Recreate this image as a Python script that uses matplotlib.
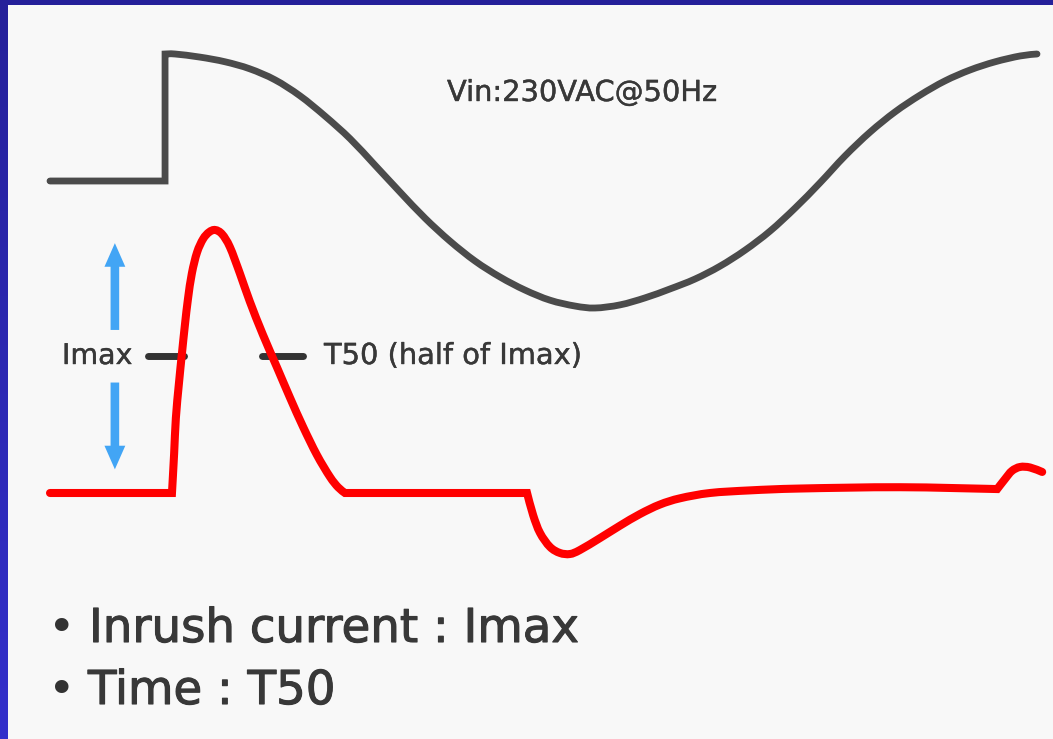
import numpy as np
import matplotlib
matplotlib.use("Agg")
import matplotlib.pyplot as plt
from matplotlib.patches import Rectangle, PathPatch
from matplotlib.path import Path
from matplotlib.colors import LinearSegmentedColormap
import matplotlib.patheffects as pe

# ---------------- data ----------------
# Input voltage: time in ms, voltage in V (230 VAC -> 325 V peak)
vin_t = [0.0, 2.66, 2.66, 2.89, 3.47, 4.05, 4.62, 5.20, 5.78, 6.36, 6.94, 7.51,
         8.09, 8.67, 9.25, 9.83, 10.41, 10.98, 11.56, 12.14, 12.60,
         13.18, 13.76, 14.34, 14.91, 15.49, 16.07, 16.65, 17.23, 17.80, 18.38,
         18.96, 19.54, 20.12, 20.69, 21.27, 21.85, 22.43, 22.82]
vin_v = [0, 0, 325, 325, 317, 305, 287, 259, 218, 166, 108, 41,
         -28, -95, -154, -205, -246, -279, -305, -320, -325,
         -317, -299, -276, -251, -218, -177, -128, -69, -5, 64,
         125, 177, 220, 256, 284, 305, 320, 325]
vin_corners = [1, 2]

# Inrush current: time in ms, current normalised to Imax
cur_t = [0.0, 2.82, 2.87, 2.91, 2.98, 3.05, 3.12, 3.19, 3.28, 3.40, 3.54, 3.68,
         3.82, 3.98, 4.16, 4.39, 4.62, 4.92, 5.25, 5.55, 5.85, 6.17, 6.47, 6.66,
         6.82, 11.03, 11.17, 11.33, 11.56, 11.79, 12.02, 12.25, 12.72, 13.18,
         13.64, 14.10, 14.57, 15.26, 16.19, 17.34, 19.65, 21.90, 22.08, 22.24,
         22.43, 22.66, 22.94]
cur_i = [0.0, 0.0, 0.150, 0.285, 0.415, 0.530, 0.640, 0.738, 0.835, 0.915, 0.966, 0.992,
         1.0, 0.984, 0.935, 0.835, 0.728, 0.603, 0.477, 0.362, 0.252, 0.145, 0.062, 0.022,
         0.0, 0.0, -0.084, -0.152, -0.205, -0.228, -0.232, -0.217, -0.171, -0.124,
         -0.080, -0.044, -0.020, 0.000, 0.010, 0.017, 0.022, 0.015, 0.053, 0.084,
         0.099, 0.097, 0.080]
cur_corners = [1, 24, 25, 41]

t50_level = 0.52
vin_label = "Vin:230VAC@50Hz"
imax_label = "Imax"
t50_label = "T50 (half of Imax)"
bullets = ["Inrush current : Imax", "Time : T50"]


def smooth_path(xs, ys, corners):
    """Catmull-Rom curve through the given points, with sharp corners at
    the listed indices (straight lines where a piece has two points)."""
    p = np.column_stack([xs, ys]).astype(float)
    breaks = sorted(set([0] + list(corners) + [len(p) - 1]))
    verts = [p[0]]
    codes = [Path.MOVETO]
    for a, b in zip(breaks[:-1], breaks[1:]):
        seg = p[a:b + 1]
        if len(seg) == 2:
            verts.append(seg[1])
            codes.append(Path.LINETO)
            continue
        n = len(seg)
        for k in range(n - 1):
            p0 = seg[k - 1] if k > 0 else seg[k]
            p1, p2 = seg[k], seg[k + 1]
            p3 = seg[k + 2] if k + 2 < n else seg[k + 1]
            c1 = p1 + (p2 - p0) / 6.0
            c2 = p2 - (p3 - p1) / 6.0
            verts += [c1, c2, p2]
            codes += [Path.CURVE4] * 3
    return Path(np.array(verts), codes)


# ---------------- figure ----------------
W, H = 1053, 739
fig = plt.figure(figsize=(W / 100, H / 100), dpi=100)

bg = fig.add_axes([0, 0, 1, 1])
bg.axis("off")
grad = np.linspace(0, 1, 256)[:, None]
cmap = LinearSegmentedColormap.from_list("frame", ["#25209a", "#332fcb"])
bg.imshow(grad, aspect="auto", cmap=cmap, extent=[0, 1, 0, 1], origin="upper")
bg.add_patch(Rectangle((8 / W, 0), 1 - 8 / W, 1 - 5 / H, transform=bg.transAxes,
                       facecolor="#f8f8f8", edgecolor="none", zorder=2))
bg.set_xlim(0, 1)
bg.set_ylim(0, 1)


def px_axes(x0, x1, y_top, y_bot):
    a = fig.add_axes([x0 / W, 1 - y_bot / H, (x1 - x0) / W, (y_bot - y_top) / H])
    a.axis("off")
    return a


axv = px_axes(50, 1037, 54, 308)
axv.set_xlim(0, 22.82)
axv.set_ylim(-325, 325)

axi = px_axes(50, 1037, 230, 493)
axi.set_xlim(0, 22.82)
axi.set_ylim(0, 1)

axv.add_patch(PathPatch(smooth_path(vin_t, vin_v, vin_corners), fill=False,
                        edgecolor="#4b4b4b", lw=4.9, capstyle="round",
                        joinstyle="miter", clip_on=False))

# T50 marker segments (under the red curve)
axi.plot([2.27, 3.1], [t50_level, t50_level], color="#333333", lw=5,
         solid_capstyle="round", clip_on=False, zorder=1)
axi.plot([4.9, 5.85], [t50_level, t50_level], color="#333333", lw=5,
         solid_capstyle="round", clip_on=False, zorder=1)

axi.add_patch(PathPatch(smooth_path(cur_t, cur_i, cur_corners), fill=False,
                        edgecolor="#ff0000", lw=5.8, capstyle="round",
                        joinstyle="miter", clip_on=False, zorder=3))

# Imax arrows
arrow_kw = dict(arrowstyle="simple,head_length=1.7,head_width=1.5,tail_width=0.62",
                color="#42a5f5", lw=0, shrinkA=0, shrinkB=0, mutation_scale=10)
axi.annotate("", xy=(1.5, 0.95), xytext=(1.5, 0.62), arrowprops=arrow_kw,
             annotation_clip=False)
axi.annotate("", xy=(1.5, 0.09), xytext=(1.5, 0.42), arrowprops=arrow_kw,
             annotation_clip=False)

txt_color = "#383838"


def ptext(x, y, s, size, bold=0.0, **kw):
    t = fig.text(x / W, 1 - y / H, s, fontsize=size, color=txt_color,
                 va="baseline", ha="left", family="DejaVu Sans", **kw)
    if bold:
        t.set_path_effects([pe.withStroke(linewidth=bold, foreground=txt_color)])
    return t


ptext(447, 101, vin_label, 20.8, bold=0.3)
ptext(62, 364, imax_label, 20.5, bold=0.3)
ptext(324, 364, t50_label, 20.8, bold=0.3)
ptext(89, 642, bullets[0], 33.6, bold=0.8)
ptext(88, 704, bullets[1], 33.6, bold=0.8)
fig.text(62 / W, 1 - 642 / H, "\u2022", fontsize=33.6, color="#333333",
         va="baseline", ha="center", family="DejaVu Sans")
fig.text(62 / W, 1 - 704 / H, "\u2022", fontsize=33.6, color="#333333",
         va="baseline", ha="center", family="DejaVu Sans")

fig.savefig("out.png", dpi=100)
